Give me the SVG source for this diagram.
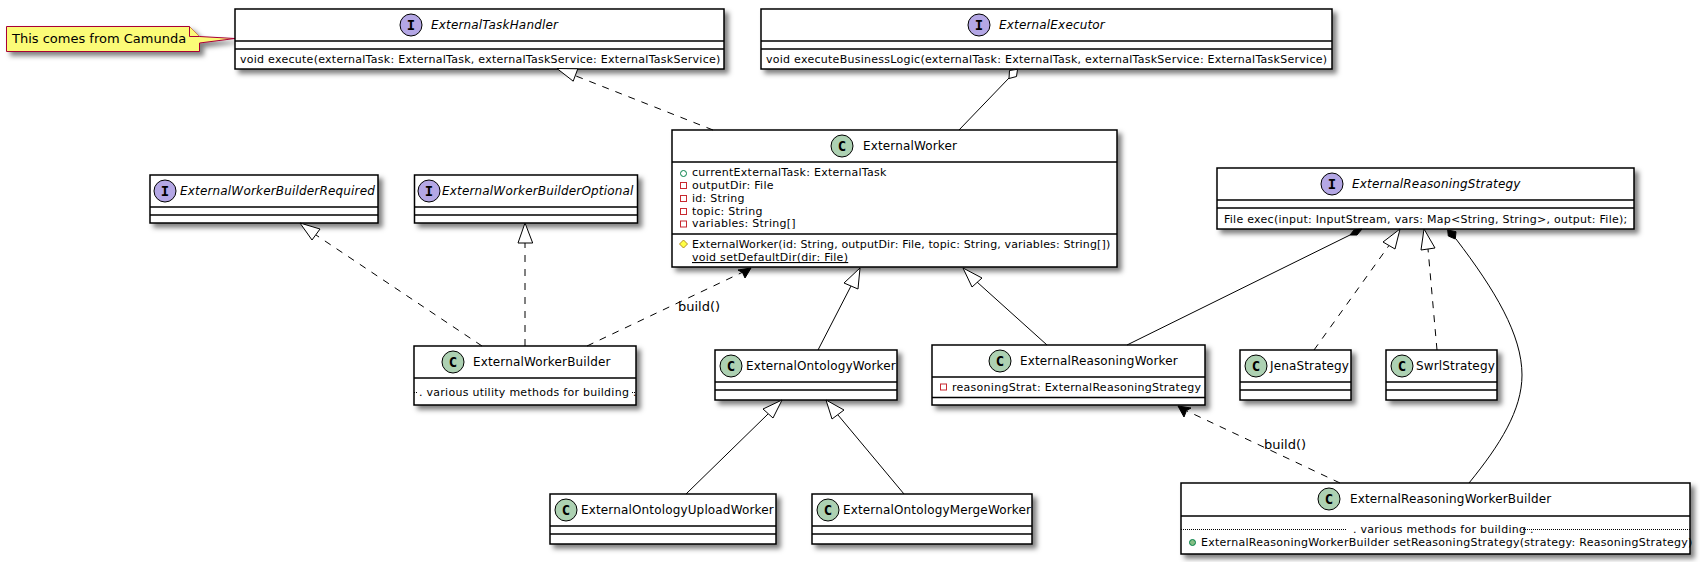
<svg xmlns="http://www.w3.org/2000/svg" width="1700" height="562" viewBox="0 0 1700 562">
<style>
text{font-family:"DejaVu Sans",sans-serif;fill:#000}
.t{font-size:12px;letter-spacing:.15px}.i{font-size:12px;font-style:italic;letter-spacing:.17px}.m{font-size:11px;letter-spacing:.27px}.l{font-size:13px}
.b{fill:#fff;stroke:#000;stroke-width:1.5}
.s{stroke:#000;stroke-width:1.5;fill:none}
.ci{fill:#ADD1B2;stroke:#000;stroke-width:1}.ii{fill:#B4A7E5;stroke:#000;stroke-width:1}
.g{font-size:14px;font-weight:bold;text-anchor:middle;font-family:"DejaVu Sans Mono",monospace}
.c{stroke:#000;stroke-width:1;fill:none}.d{stroke-dasharray:7 7}
.o{fill:#fff;stroke:#000;stroke-width:1}.f{fill:#000;stroke:#000;stroke-width:1}
.ps{fill:none;stroke:#038048;stroke-width:1}.pr{fill:none;stroke:#C82930;stroke-width:1}
.dt{stroke:#000;stroke-width:1;stroke-dasharray:1 1;fill:none}
</style>
<defs><filter id="sh" x="-10%" y="-30%" width="120%" height="170%"><feDropShadow dx="4" dy="4" stdDeviation="2.500" flood-color="#000" flood-opacity="0.5"/></filter></defs>
<g id="note"><path d="M6.500 26.500H189.500L199.500 36.500L235 38.500L199.500 43V51.500H6.500Z" fill="#FBFB77" stroke="#A80036" filter="url(#sh)"/><path d="M189.500 26.500V36.500H199.500" fill="#FBFB77" stroke="#A80036"/><text class="l" x="12" y="43">This comes from Camunda</text></g>
<g id="ExternalTaskHandler"><rect class="b" x="235" y="9" width="489" height="60" filter="url(#sh)"/><path class="s" d="M235 41H724M235 49H724"/><circle class="ii" cx="411" cy="25" r="11"/><text class="g" x="411" y="30">I</text><text class="i" x="431" y="29">ExternalTaskHandler</text><text class="m" x="240" y="63">void execute(externalTask: ExternalTask, externalTaskService: ExternalTaskService)</text></g>
<g id="ExternalExecutor"><rect class="b" x="761" y="9" width="571" height="60" filter="url(#sh)"/><path class="s" d="M761 41H1332M761 49H1332"/><circle class="ii" cx="979" cy="25" r="11"/><text class="g" x="979" y="30">I</text><text class="i" x="999" y="29">ExternalExecutor</text><text class="m" x="766" y="63">void executeBusinessLogic(externalTask: ExternalTask, externalTaskService: ExternalTaskService)</text></g>
<g id="ExternalWorker"><rect class="b" x="672" y="130" width="445" height="137" filter="url(#sh)"/><path class="s" d="M672 162H1117M672 234H1117"/><circle class="ci" cx="842" cy="146" r="11"/><text class="g" x="842" y="151">C</text><text class="t" x="863" y="150">ExternalWorker</text>
<circle class="ps" cx="683.500" cy="173.500" r="3"/><rect class="pr" x="680.500" y="182.500" width="6" height="6"/><rect class="pr" x="680.500" y="195.500" width="6" height="6"/><rect class="pr" x="680.500" y="208.500" width="6" height="6"/><rect class="pr" x="680.500" y="221" width="6" height="6"/>
<text class="m" x="692" y="176">currentExternalTask: ExternalTask</text><text class="m" x="692" y="189">outputDir: File</text><text class="m" x="692" y="202">id: String</text><text class="m" x="692" y="215">topic: String</text><text class="m" x="692" y="227">variables: String[]</text>
<path d="M683.500 240L687.500 244L683.500 248L679.500 244Z" fill="#FFFF44" stroke="#B38D22"/><text class="m" x="692" y="248" style="letter-spacing:.135px">ExternalWorker(id: String, outputDir: File, topic: String, variables: String[])</text><text class="m" x="692" y="261" text-decoration="underline">void setDefaultDir(dir: File)</text></g>
<g id="ExternalWorkerBuilderRequired"><rect class="b" x="150" y="175" width="228" height="48" filter="url(#sh)"/><path class="s" d="M150 207H378M150 215H378"/><circle class="ii" cx="165" cy="191" r="11"/><text class="g" x="165" y="196">I</text><text class="i" x="180" y="195">ExternalWorkerBuilderRequired</text></g>
<g id="ExternalWorkerBuilderOptional"><rect class="b" x="414.500" y="175" width="223" height="48" filter="url(#sh)"/><path class="s" d="M414.500 207H637.500M414.500 215H637.500"/><circle class="ii" cx="429" cy="191" r="11"/><text class="g" x="429" y="196">I</text><text class="i" x="442" y="195">ExternalWorkerBuilderOptional</text></g>
<g id="ExternalReasoningStrategy"><rect class="b" x="1217" y="168" width="417" height="61" filter="url(#sh)"/><path class="s" d="M1217 200H1634M1217 208H1634"/><circle class="ii" cx="1332" cy="184" r="11"/><text class="g" x="1332" y="189">I</text><text class="i" x="1352" y="188">ExternalReasoningStrategy</text><text class="m" x="1224" y="223">File exec(input: InputStream, vars: Map&lt;String, String&gt;, output: File);</text></g>
<g id="ExternalWorkerBuilder"><rect class="b" x="414" y="346" width="222" height="59" filter="url(#sh)"/><path class="s" d="M414 378H636"/><circle class="ci" cx="453" cy="362" r="11"/><text class="g" x="453" y="367">C</text><text class="t" x="473" y="366">ExternalWorkerBuilder</text><path class="dt" d="M414 392.500H418M632 392.500H636"/><text class="m" x="419" y="396">. various utility methods for building .</text></g>
<g id="ExternalOntologyWorker"><rect class="b" x="715" y="350" width="182" height="50" filter="url(#sh)"/><path class="s" d="M715 382H897M715 390H897"/><circle class="ci" cx="731" cy="366" r="11"/><text class="g" x="731" y="371">C</text><text class="t" x="746" y="370">ExternalOntologyWorker</text></g>
<g id="ExternalReasoningWorker"><rect class="b" x="932" y="345" width="273" height="60" filter="url(#sh)"/><path class="s" d="M932 377H1205M932 397.500H1205"/><circle class="ci" cx="1000" cy="361" r="11"/><text class="g" x="1000" y="366">C</text><text class="t" x="1020" y="365">ExternalReasoningWorker</text><rect class="pr" x="940.500" y="384" width="6" height="6"/><text class="m" x="952" y="391">reasoningStrat: ExternalReasoningStrategy</text></g>
<g id="JenaStrategy"><rect class="b" x="1240" y="350" width="111" height="50" filter="url(#sh)"/><path class="s" d="M1240 382H1351M1240 390H1351"/><circle class="ci" cx="1256" cy="366" r="11"/><text class="g" x="1256" y="371">C</text><text class="t" x="1270" y="370">JenaStrategy</text></g>
<g id="SwrlStrategy"><rect class="b" x="1386" y="350" width="111" height="50" filter="url(#sh)"/><path class="s" d="M1386 382H1497M1386 390H1497"/><circle class="ci" cx="1402" cy="366" r="11"/><text class="g" x="1402" y="371">C</text><text class="t" x="1416" y="370">SwrlStrategy</text></g>
<g id="ExternalOntologyUploadWorker"><rect class="b" x="550" y="494" width="226" height="50" filter="url(#sh)"/><path class="s" d="M550 526H776M550 534H776"/><circle class="ci" cx="566" cy="510" r="11"/><text class="g" x="566" y="515">C</text><text class="t" x="581" y="514">ExternalOntologyUploadWorker</text></g>
<g id="ExternalOntologyMergeWorker"><rect class="b" x="812" y="494" width="220" height="50" filter="url(#sh)"/><path class="s" d="M812 526H1032M812 534H1032"/><circle class="ci" cx="828" cy="510" r="11"/><text class="g" x="828" y="515">C</text><text class="t" x="843" y="514">ExternalOntologyMergeWorker</text></g>
<g id="ExternalReasoningWorkerBuilder"><rect class="b" x="1181" y="483" width="509" height="71" filter="url(#sh)"/><path class="s" d="M1181 516H1690"/><path class="dt" d="M1181 529.500H1347M1523 529.500H1690"/><circle class="ci" cx="1329" cy="499" r="11"/><text class="g" x="1329" y="504">C</text><text class="t" x="1350" y="503">ExternalReasoningWorkerBuilder</text><text class="m" x="1353" y="533">. various methods for building .</text><circle cx="1192.500" cy="542.500" r="3" fill="#84BE84" stroke="#038048"/><text class="m" x="1201" y="546">ExternalReasoningWorkerBuilder setReasoningStrategy(strategy: ReasoningStrategy)</text></g>
<g id="connectors">
<path class="c d" d="M713 130L576 76"/><path class="o" d="M557 68.500L573.200 81.200L577.800 68.800Z"/>
<path class="c" d="M959 130L1009 78"/><path class="o" d="M1017.500 69.300L1016.500 76.500L1009 78.500L1009.500 70.500Z"/>
<path class="c d" d="M482 346L316 235"/><path class="o" d="M300 223L312 240L320 229Z"/>
<path class="c d" d="M525 346L525 243"/><path class="o" d="M525 223L532.700 243L518 243Z"/>
<path class="c d" d="M587 346L743 272"/><path class="f" d="M751 268L738 270L742.500 272.500L745 278Z"/>
<path class="c" d="M818 350L851 286"/><path class="o" d="M860 268L858 289L844 283Z"/>
<path class="c" d="M1047 345L977 282"/><path class="o" d="M963 268L982 278L972 287Z"/>
<path class="c" d="M1127 345L1350 235"/><path class="f" d="M1362 229L1357 235L1350 235L1354 230Z"/>
<path class="c d" d="M1314 350L1389 245.500"/><path class="o" d="M1400 229L1383 242L1395 249Z"/>
<path class="c d" d="M1437 350L1428 249"/><path class="o" d="M1424 229L1421 250L1435 248Z"/>
<path class="c" d="M1469 483C1500 445 1522 410 1522 375C1522 335 1495 290 1456 239"/><path class="f" d="M1447.700 230L1456 231.700L1455.300 239L1448.300 236Z"/>
<path class="c d" d="M1340 483L1187 411"/><path class="f" d="M1178 406L1191 408L1186.500 410.500L1184 417Z"/>
<path class="c" d="M686 494L768 414"/><path class="o" d="M782 400L763 409L773 418Z"/>
<path class="c" d="M904 494L838 415"/><path class="o" d="M826 400L844 410L832 419Z"/>
</g>
<g id="labels"><text class="l" x="678" y="311">build()</text><text class="l" x="1264" y="449">build()</text></g>
</svg>
